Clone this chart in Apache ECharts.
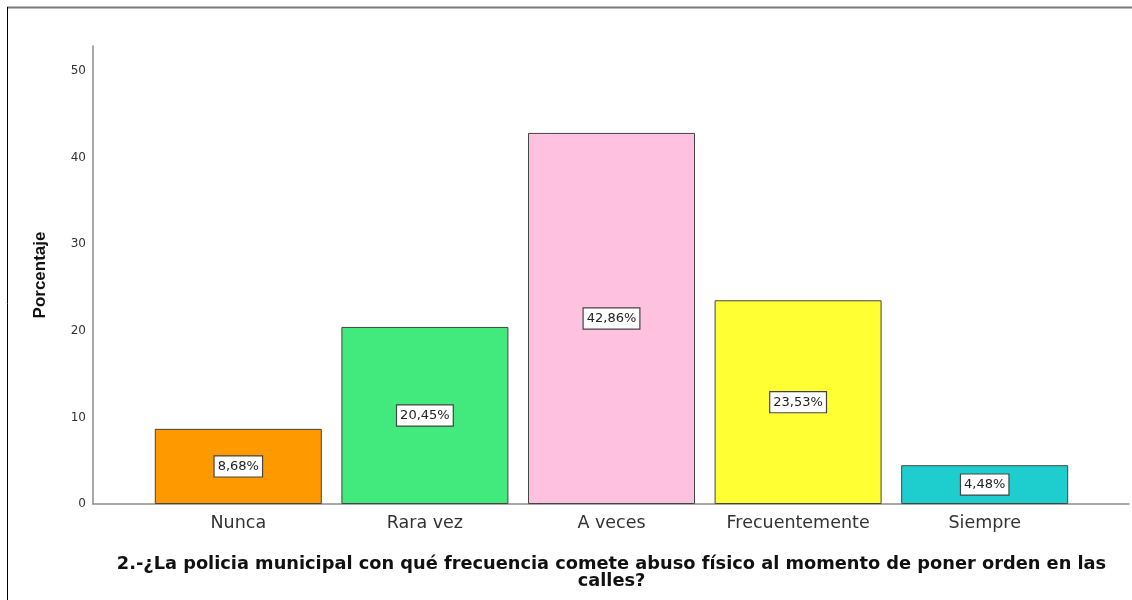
<!DOCTYPE html>
<html>
<head>
<meta charset="utf-8">
<script src="https://cdn.jsdelivr.net/npm/echarts@6/dist/echarts.min.js"></script>
<style>
  html, body { margin: 0; padding: 0; background: #fff; }
  #chart { width: 1132px; height: 600px; }
</style>
</head>
<body>
<div id="chart"></div>
<script>
// datos
var categorias = ["Nunca", "Rara vez", "A veces", "Frecuentemente", "Siempre"];
var porcentajes = [8.68, 20.45, 42.86, 23.53, 4.48];
var colores = ["#ff9900", "#42ea7d", "#fec1e0", "#ffff33", "#1ecece"];
var titulo = "2.-¿La policia municipal con qué frecuencia comete abuso físico al momento de poner orden en las\ncalles?";

var fuenteAncha = "'DejaVu Sans', Verdana, sans-serif";
var fuente = "'Liberation Sans', Arial, sans-serif";
var yMax = 52.9; // el eje sube un poco por encima de 50

var chart = echarts.init(document.getElementById("chart"));

var option = {
  backgroundColor: "#fff",
  animation: false,
  grid: [
    // marco de ejes
    { left: 93, right: 3, top: 46, bottom: 96 },
    // barras
    { left: 145, right: 54, top: 46, bottom: 96 }
  ],
  xAxis: [
    {
      gridIndex: 0,
      type: "value",
      min: 0,
      max: 1,
      axisLine: { show: true, lineStyle: { color: "#8c8c8c", width: 1.5 } },
      axisTick: { show: false },
      axisLabel: { show: false },
      splitLine: { show: false }
    },
    {
      gridIndex: 1,
      type: "category",
      data: categorias,
      axisLine: { show: false },
      axisTick: { show: false },
      axisLabel: {
        interval: 0,
        margin: 10,
        fontFamily: fuenteAncha,
        fontSize: 17.5,
        color: "#333"
      },
      name: titulo,
      nameLocation: "middle",
      nameGap: 52,
      nameTextStyle: {
        fontFamily: fuenteAncha,
        fontSize: 17.8,
        fontWeight: "bold",
        color: "#111",
        lineHeight: 17
      }
    }
  ],
  yAxis: [
    {
      gridIndex: 0,
      type: "value",
      min: 0,
      max: yMax,
      interval: 10,
      axisLine: { show: true, lineStyle: { color: "#8c8c8c", width: 1.5 } },
      axisTick: { show: false },
      splitLine: { show: false },
      axisLabel: {
        margin: 7,
        fontFamily: fuenteAncha,
        fontSize: 12,
        color: "#333",
        formatter: function (v) { return v % 10 === 0 ? String(v) : ""; }
      },
      name: "Porcentaje",
      nameLocation: "middle",
      nameGap: 44,
      nameTextStyle: {
        fontFamily: fuente,
        fontSize: 17,
        fontWeight: "bold",
        color: "#111"
      }
    },
    {
      gridIndex: 1,
      type: "value",
      min: 0,
      max: yMax,
      show: false
    }
  ],
  series: [
    {
      type: "bar",
      xAxisIndex: 1,
      yAxisIndex: 1,
      barWidth: 167,
      data: porcentajes.map(function (v, i) {
        return { value: v, itemStyle: { color: colores[i] } };
      }),
      itemStyle: { borderColor: "#444", borderWidth: 1 },
      label: {
        show: true,
        position: "inside",
        fontFamily: fuenteAncha,
        fontSize: 13,
        color: "#222",
        backgroundColor: "#fff",
        borderColor: "#444",
        borderWidth: 1.2,
        padding: [4, 3, 3, 3],
        formatter: function (p) {
          return p.value.toFixed(2).replace(".", ",") + "%";
        }
      }
    }
  ],
  graphic: [
    {
      type: "line",
      shape: { x1: 7, y1: 7.5, x2: 1132, y2: 7.5 },
      style: { stroke: "#7a7a7a", lineWidth: 2 }
    },
    {
      type: "line",
      shape: { x1: 7.5, y1: 7, x2: 7.5, y2: 600 },
      style: { stroke: "#000", lineWidth: 1 }
    }
  ]
};

chart.setOption(option);
</script>
</body>
</html>
